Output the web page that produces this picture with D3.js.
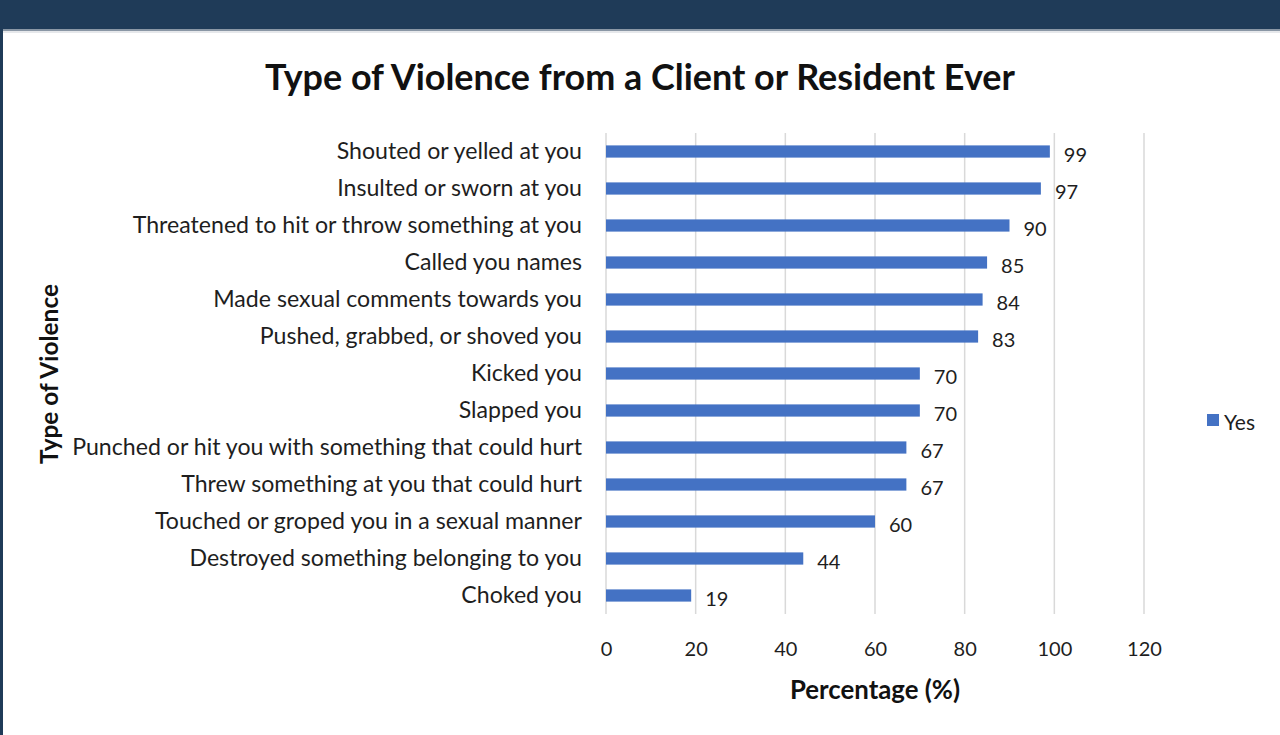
<!DOCTYPE html>
<html>
<head>
<meta charset="utf-8">
<script src="https://cdn.jsdelivr.net/npm/d3@7"></script>
<style>
  html, body { margin: 0; padding: 0; background: #ffffff; }
  svg { display: block; }
  text { font-family: Lato, "Open Sans", sans-serif; }
</style>
</head>
<body>
<svg id="chart" width="1280" height="735"></svg>
<script>
// Survey responses: share of workers who experienced each type of violence
const categories = [
  "Shouted or yelled at you",
  "Insulted or sworn at you",
  "Threatened to hit or throw something at you",
  "Called you names",
  "Made sexual comments towards you",
  "Pushed, grabbed, or shoved you",
  "Kicked you",
  "Slapped you",
  "Punched or hit you with something that could hurt",
  "Threw something at you that could hurt",
  "Touched or groped you in a sexual manner",
  "Destroyed something belonging to you",
  "Choked you"
];
const yesValues = [99, 97, 90, 85, 84, 83, 70, 70, 67, 67, 60, 44, 19];
const xTicks = [0, 20, 40, 60, 80, 100, 120];
const seriesName = "Yes";
const chartTitle = "Type of Violence from a Client or Resident Ever";
const xTitle = "Percentage (%)";
const yTitle = "Type of Violence";

const svg = d3.select("#chart");
const W = 1280, H = 735;
const barColor = "#4472c4";
const textColor = "#1e1e1e";

// Frame: navy header band and left edge
svg.append("rect").attr("x", 0).attr("y", 0).attr("width", W).attr("height", H).attr("fill", "#ffffff");
svg.append("rect").attr("x", 0).attr("y", 0).attr("width", W).attr("height", 29).attr("fill", "#1f3b58");
svg.append("rect").attr("x", 0).attr("y", 29).attr("width", W).attr("height", 2).attr("fill", "#8a97a5");
svg.append("rect").attr("x", 0).attr("y", 31).attr("width", W).attr("height", 2).attr("fill", "#e6e8eb");
svg.append("rect").attr("x", 0).attr("y", 29).attr("width", 3).attr("height", H - 29).attr("fill", "#1f3b58");

const x = d3.scaleLinear().domain([0, 120]).range([606, 1144]);
const y = d3.scaleBand().domain(categories).range([133, 614]).paddingInner(0.67).paddingOuter(0.335);

// Helper: resize font so a text spans a target width
function fitFont(sel, target, base) {
  const w = sel.node().getComputedTextLength();
  sel.style("font-size", (base * target / w) + "px");
}

// Title
const title = svg.append("text")
  .attr("x", 640).attr("y", 76)
  .attr("text-anchor", "middle").attr("dominant-baseline", "central")
  .style("font-weight", "bold").style("font-size", "30px").attr("fill", "#111")
  .text(chartTitle);
fitFont(title, 750, 30);

// Vertical gridlines
const grid = svg.append("g");
grid.selectAll("line").data(xTicks).join("line")
  .attr("x1", d => x(d)).attr("x2", d => x(d))
  .attr("y1", 133).attr("y2", 614)
  .attr("stroke", "#d9d9d9").attr("stroke-width", 1.5);

// X axis tick labels (axis line hidden)
const xAxis = svg.append("g").attr("transform", "translate(0,648)")
  .call(d3.axisBottom(x).tickValues(xTicks).tickSize(0).tickPadding(0));
xAxis.select(".domain").remove();
xAxis.selectAll("text")
  .attr("dy", "0").attr("dominant-baseline", "central")
  .style("font-size", "20px").style("font-family", "Lato, sans-serif").attr("fill", textColor);

// Category labels
const yAxis = svg.append("g").attr("transform", "translate(582,-2)")
  .call(d3.axisLeft(y).tickSize(0).tickPadding(0));
yAxis.select(".domain").remove();
yAxis.selectAll("text")
  .attr("dy", "0").attr("dominant-baseline", "central")
  .style("font-family", "Lato, sans-serif").style("font-size", "19px").attr("fill", textColor);
// scale labels so the longest one spans its measured width
let lw = 0;
yAxis.selectAll("text").each(function() {
  lw = Math.max(lw, this.getComputedTextLength());
});
yAxis.selectAll("text").style("font-size", (19 * 510 / lw) + "px");

// Bars
svg.append("g").selectAll("rect").data(yesValues).join("rect")
  .attr("x", x(0))
  .attr("y", (d, i) => y(categories[i]))
  .attr("width", d => x(d) - x(0))
  .attr("height", y.bandwidth())
  .attr("fill", barColor);

// Value labels
svg.append("g").selectAll("text").data(yesValues).join("text")
  .attr("x", d => x(d) + 14)
  .attr("y", (d, i) => y(categories[i]) + y.bandwidth() / 2 + 2)
  .attr("dominant-baseline", "central")
  .style("font-size", "20px").attr("fill", textColor)
  .text(d => d);

// Axis titles
const xt = svg.append("text")
  .attr("x", 875).attr("y", 689)
  .attr("text-anchor", "middle").attr("dominant-baseline", "central")
  .style("font-weight", "bold").style("font-size", "21px").attr("fill", "#111")
  .text(xTitle);
fitFont(xt, 170, 21);

const yt = svg.append("text")
  .attr("transform", "translate(48,374) rotate(-90)")
  .attr("text-anchor", "middle").attr("dominant-baseline", "central")
  .style("font-weight", "bold").style("font-size", "21px").attr("fill", "#111")
  .text(yTitle);
fitFont(yt, 180, 21);

// Legend
svg.append("rect").attr("x", 1207).attr("y", 414).attr("width", 12).attr("height", 12).attr("fill", barColor);
svg.append("text").attr("x", 1224).attr("y", 421)
  .attr("dominant-baseline", "central")
  .style("font-size", "21px").attr("fill", textColor)
  .text(seriesName);
</script>
</body>
</html>
